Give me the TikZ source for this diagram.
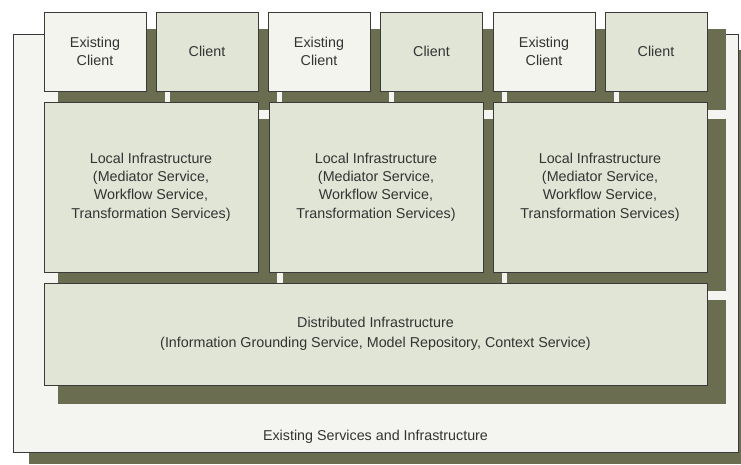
\documentclass[tikz,border=0pt]{standalone}
\usepackage{fontspec}
\setmainfont{Liberation Sans}
\usetikzlibrary{calc}
\pgfdeclarelayer{bg}
\pgfsetlayers{bg,main}
\definecolor{olivedark}{HTML}{6B6D50}
\definecolor{boxfill}{HTML}{E1E5D5}
\definecolor{lightfill}{HTML}{F3F4EE}
\definecolor{outerfill}{HTML}{F4F5F0}
\definecolor{edge}{HTML}{3A3A3A}
\definecolor{txt}{HTML}{333333}
\begin{document}
\begin{tikzpicture}[x=1pt,y=-1pt,
  box/.style={draw=edge,line width=0.8pt,fill=boxfill,inner sep=0pt,align=center,text=txt,
    font=\fontsize{14.3}{18.3}\selectfont},
  clientbox/.style={box,minimum width=102pt,minimum height=79pt},
  existbox/.style={clientbox,fill=lightfill},
  localbox/.style={box,minimum width=214pt,minimum height=170pt},
  distbox/.style={box,minimum width=663pt,minimum height=102pt,font=\fontsize{14.3}{20.5}\selectfont},
  outerbox/.style={draw=edge,line width=0.8pt,fill=outerfill,inner sep=0pt,minimum width=725pt,minimum height=418pt},
  shadowfill/.style={fill=olivedark,draw=none},
  plain/.style={text=txt,inner sep=0pt,font=\fontsize{14.3}{18}\selectfont}]
\useasboundingbox (0,0) rectangle (741,464);

% client row
\node[existbox]  (ec1) at (95,51.5)   {Existing\\Client};
\node[clientbox] (c1)  at (207,51.5)  {Client};
\node[existbox]  (ec2) at (319,51.5)  {Existing\\Client};
\node[clientbox] (c2)  at (431.5,51.5){Client};
\node[existbox]  (ec3) at (544,51.5)  {Existing\\Client};
\node[clientbox] (c3)  at (656,51.5)  {Client};

% local infrastructure row
\node[localbox] (l1) at (151,187) {Local Infrastructure\\(Mediator Service,\\Workflow Service,\\Transformation Services)};
\node[localbox] (l2) at (376,187) {Local Infrastructure\\(Mediator Service,\\Workflow Service,\\Transformation Services)};
\node[localbox] (l3) at (600,187) {Local Infrastructure\\(Mediator Service,\\Workflow Service,\\Transformation Services)};

% distributed
\node[distbox] (d) at (375.5,334) {Distributed Infrastructure\\(Information Grounding Service, Model Repository, Context Service)};

\node[plain] (lbl) at (375.5,437) {Existing Services and Infrastructure};

\begin{pgfonlayer}{bg}
  \fill[shadowfill] (29,50) rectangle (741,464);
  \node[outerbox] (outer) at (375.5,243) {};
  \foreach \n in {ec1,c1,ec2,c2,ec3,c3,l1,l2,l3,d}{
    \fill[shadowfill] ($(\n.north west)+(14,17)$) rectangle ($(\n.south east)+(19,19)$);
  }
\end{pgfonlayer}
\end{tikzpicture}
\end{document}
